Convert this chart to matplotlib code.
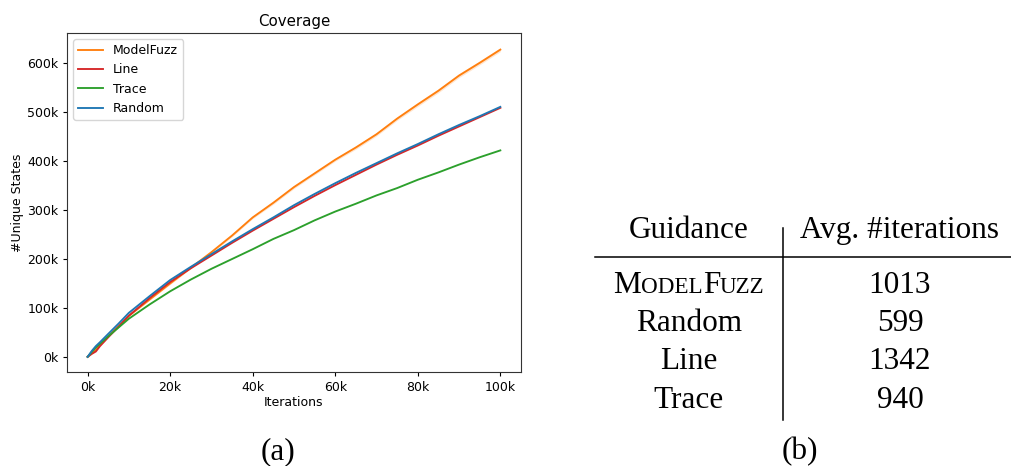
import matplotlib.pyplot as plt
from matplotlib.ticker import FuncFormatter

# iterations sampled (in units of 1)
iters = [0, 1000, 2000, 3000, 5000, 7500, 10000, 15000, 20000, 25000, 30000,
         35000, 40000, 45000, 50000, 55000, 60000, 65000, 70000, 75000, 80000,
         85000, 90000, 95000, 100000]

# unique states, in thousands
modelfuzz = [0, 8, 14, 24, 42, 62, 84, 117, 150, 182, 214, 248, 285, 315, 347,
             375, 403, 428, 455, 487, 516, 544, 575, 601, 628]
modelfuzz_spread = [0, 1, 1, 1, 1, 1, 1.5, 1.5, 2, 2, 2, 2.5, 2.5, 3, 3, 3,
                    3, 3.5, 3.5, 3.5, 4, 4, 4, 4, 4]
line = [0, 6, 11, 22, 40, 62, 84, 120, 153, 181, 207, 233, 258, 282, 306, 329,
        351, 372, 393, 413, 432, 452, 471, 490, 509]
trace = [0, 10, 19, 27, 42, 60, 78, 107, 134, 158, 180, 200, 220, 241, 259,
         279, 297, 313, 330, 345, 362, 377, 393, 408, 422]
random_ = [0, 12, 22, 30, 47, 68, 90, 124, 157, 184, 210, 236, 261, 285, 310,
           333, 355, 376, 396, 416, 435, 455, 474, 492, 511]

guidance = ["ModelFuzz", "Random", "Line", "Trace"]
avg_iters = [1013, 599, 1342, 940]

plt.rcParams['font.size'] = 9
fig = plt.figure(figsize=(10.12, 4.66), dpi=100)
ax = fig.add_axes([0.0662, 0.2017, 0.4486, 0.7275])

k = lambda vals: [v * 1000 for v in vals]
lo = [(m - s) * 1000 for m, s in zip(modelfuzz, modelfuzz_spread)]
hi = [(m + s) * 1000 for m, s in zip(modelfuzz, modelfuzz_spread)]
ax.fill_between(iters, lo, hi, color='#ff7f0e', alpha=0.2, lw=0)
ax.plot(iters, k(modelfuzz), c='#ff7f0e', lw=1.35, label='ModelFuzz')
ax.plot(iters, k(line), c='#d62728', lw=1.35, label='Line')
ax.plot(iters, k(trace), c='#2ca02c', lw=1.35, label='Trace')
ax.plot(iters, k(random_), c='#1f77b4', lw=1.35, label='Random')

fmt = FuncFormatter(lambda v, p: f"{int(round(v / 1000))}k")
ax.xaxis.set_major_formatter(fmt)
ax.yaxis.set_major_formatter(fmt)
ax.set_xticks([0, 20000, 40000, 60000, 80000, 100000])
ax.set_yticks([0, 100000, 200000, 300000, 400000, 500000, 600000])
ax.set_ylim(-31000, 662000)
ax.set_xlabel("Iterations", labelpad=2)
ax.set_ylabel("#Unique States", labelpad=2)
ax.set_title("Coverage", fontsize=10.8, pad=5)
for s in ax.spines.values():
    s.set_color('#333333')
ax.tick_params(length=3.2, pad=3)
ax.legend(loc='upper left', fontsize=9)

# table (b), drawn in pixel coordinates
tab = fig.add_axes([0, 0, 1, 1], zorder=-1)
tab.set_xlim(0, 1012)
tab.set_ylim(466, 0)
tab.axis('off')
serif = 'Liberation Serif'
fs = 22.5

tab.plot([595, 1012], [257, 257], c='black', lw=1.1)
tab.plot([783, 783], [228, 420], c='black', lw=1.1)
tab.text(689, 238, "Guidance", family=serif, fontsize=fs, ha='center', va='baseline')
tab.text(900, 238, "Avg. #iterations", family=serif, fontsize=fs, ha='center', va='baseline')

row_y = [293, 331, 369, 408]
fig.canvas.draw()
r = fig.canvas.get_renderer()
for name, val, y in zip(guidance, avg_iters, row_y):
    if name == "ModelFuzz":
        pieces = [("M", fs), ("ODEL", fs * 0.74), ("F", fs), ("UZZ", fs * 0.74)]
        texts = [tab.text(0, y, p, family=serif, fontsize=s, va='baseline')
                 for p, s in pieces]
        widths = [t.get_window_extent(r).width for t in texts]
        x = 689 - sum(widths) / 2
        for t, w in zip(texts, widths):
            t.set_x(x)
            x += w
    else:
        tab.text(689, y, name, family=serif, fontsize=fs, ha='center', va='baseline')
    tab.text(900, y, str(val), family=serif, fontsize=fs, ha='center', va='baseline')

tab.text(278, 459, "(a)", family=serif, fontsize=fs, ha='center', va='baseline')
tab.text(800, 459, "(b)", family=serif, fontsize=fs, ha='center', va='baseline')

fig.savefig("out.png", dpi=100)
